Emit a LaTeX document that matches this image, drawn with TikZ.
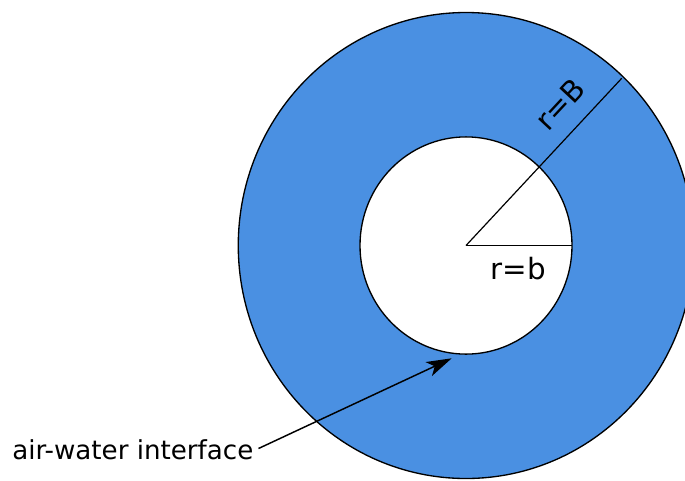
\documentclass[tikz,border=0pt]{standalone}
\usepackage{fontspec}
\setmainfont{DejaVu Sans}
\usetikzlibrary{arrows.meta}
\definecolor{water}{HTML}{4A90E2}
\tikzset{
  ring/.style={draw=black, line width=1pt},
  radius line/.style={draw=black, line width=0.9pt},
  lbl/.style={inner sep=0pt, font=\fontsize{19.6pt}{23pt}\selectfont},
  rlbl/.style={inner sep=0pt, font=\fontsize{22pt}{26pt}\selectfont},
  pointer/.style={draw=black, line width=1.1pt, -{Stealth[length=19pt, width=11.5pt, inset=5pt]}}
}
\begin{document}
\begin{tikzpicture}[x=0.75pt, y=-0.75pt]
\useasboundingbox (0,0) rectangle (685,480);
\clip (0,0) rectangle (685,480);
\coordinate (c) at (466,245.5);
\coordinate (bout) at (621.7,78.3);
\coordinate (bin) at (539.3,167.7);
\coordinate (bright) at (572,245.5);
\coordinate (tip) at (451.7,358.3);
\coordinate (astart) at (258.5,448.5);
\path[ring, fill=water] (c) ellipse [x radius=170.8pt, y radius=174.75pt];
\path[ring, fill=white] (c) ellipse [x radius=79.5pt, y radius=81.45pt];
\draw[radius line] (c) -- (bout);
\draw[radius line] (c) -- (bright);
\node[rlbl] (rb) at (518,268.5) {r=b};
\node[rlbl, rotate=47] (rB) at (560,104) {r=B};
\node[lbl, anchor=base west] (aw) at (12,459.5) {air-water interface};
\draw[pointer] (astart) -- (tip);
\end{tikzpicture}
\end{document}
